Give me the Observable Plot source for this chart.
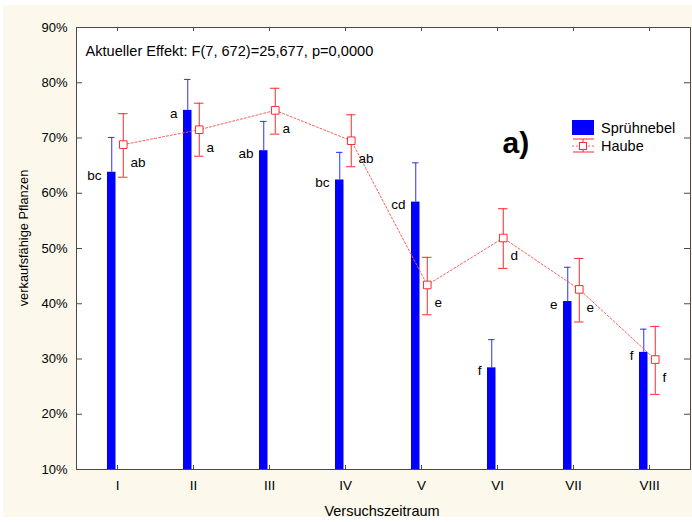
<!DOCTYPE html>
<html>
<head>
<meta charset="utf-8">
<script src="https://cdn.jsdelivr.net/npm/d3@7"></script>
<script src="https://cdn.jsdelivr.net/npm/@observablehq/plot@0.6"></script>
<style>
  html, body { margin: 0; padding: 0; background: #ffffff; }
  #chart { width: 692px; height: 522px; }
  svg { font-family: "Liberation Sans", Arial, sans-serif; }
</style>
</head>
<body>
<div id="chart"></div>
<script>
// ---- data ----
const cats = ["I", "II", "III", "IV", "V", "VI", "VII", "VIII"];
const spruehMean  = [63.8, 75.0, 67.7, 62.4, 58.4, 28.4, 40.4, 31.2];
const spruehUpper = [70.1, 80.6, 73.0, 67.4, 65.5, 33.5, 46.6, 35.4];
const haubeMean   = [68.8, 71.5, 75.0, 69.5, 43.4, 51.9, 42.6, 29.9];
const haubeUpper  = [74.4, 76.3, 79.0, 74.2, 48.4, 57.2, 48.2, 35.9];
const haubeLower  = [62.9, 66.7, 70.7, 64.8, 38.0, 46.4, 36.7, 23.6];
const spruehLetters = ["bc", "a", "ab", "bc", "cd", "f", "e", "f"];
const haubeLetters  = ["ab", "a", "a", "ab", "e", "d", "e", "f"];
const yTicks = [10, 20, 30, 40, 50, 60, 70, 80, 90];
const titleText = "Aktueller Effekt: F(7, 672)=25,677, p=0,0000";
const panelText = "a)";
const seriesNames = ["Sprühnebel", "Haube"];
const xLabel = "Versuchszeitraum";
const yLabel = "verkaufsfähige Pflanzen";

const data = cats.map((c, i) => ({
  cat: c,
  sm: spruehMean[i], su: spruehUpper[i],
  hm: haubeMean[i], hu: haubeUpper[i], hl: haubeLower[i],
  sl: spruehLetters[i], hlab: haubeLetters[i]
}));

const BLUE = "#0000ff", BLUE_ERR = "#2f2fff", RED = "#ff2a2a", RED_LINE = "#ff5a5a";
const off = 5.75;
const frameColor = "#4a4a4a";

const chart = Plot.plot({
  width: 692,
  height: 522,
  marginLeft: 76,
  marginRight: 2,
  marginTop: 27,
  marginBottom: 53,
  style: { fontFamily: "Liberation Sans, Arial, sans-serif", fontSize: "13px", background: "transparent", overflow: "visible" },
  x: { type: "band", domain: cats, padding: 0 },
  y: { domain: [10, 90] },
  marks: [
    Plot.frame({ fill: "white", stroke: "none" }),
    // bars
    Plot.barY(data, { x: "cat", y1: 10, y2: "sm", fill: BLUE, insetLeft: 28, insetRight: 39.5 }),
    // blue error bars (upper only)
    Plot.ruleX(data, { x: "cat", y1: "sm", y2: "su", stroke: BLUE_ERR, strokeWidth: 1, dx: -off }),
    Plot.tickY(data, { x: "cat", y: "su", stroke: BLUE_ERR, strokeWidth: 1, insetLeft: 29, insetRight: 40.5 }),
    // red dashed line
    Plot.line(data, { x: "cat", y: "hm", stroke: RED_LINE, strokeWidth: 1, strokeDasharray: "2,2", dx: off }),
    // red error bars
    Plot.ruleX(data, { x: "cat", y1: "hl", y2: "hu", stroke: RED, strokeWidth: 1, dx: off }),
    Plot.tickY(data, { x: "cat", y: "hu", stroke: RED, strokeWidth: 1, insetLeft: 39, insetRight: 27.5 }),
    Plot.tickY(data, { x: "cat", y: "hl", stroke: RED, strokeWidth: 1, insetLeft: 39, insetRight: 27.5 }),
    Plot.dot(data, { x: "cat", y: "hm", symbol: "square", r: 4.3, fill: "white", stroke: RED, strokeWidth: 1, dx: off }),
    // letters
    Plot.text(data, { x: "cat", y: "sm", text: "sl", textAnchor: "end", dx: -16, dy: 3, fill: "black", fontSize: 13.5 }),
    Plot.text(data, { x: "cat", y: "hm", text: "hlab", textAnchor: "start", dx: 13, dy: 18, fill: "black", fontSize: 13.5 }),
    // frame and inner ticks
    Plot.tickY(yTicks, { y: d => d, stroke: frameColor, insetRight: 608 }),
    Plot.tickY(yTicks, { y: d => d, stroke: frameColor, insetLeft: 608 }),
    Plot.tickX(cats, { x: d => d, stroke: frameColor, insetTop: 438 }),
    Plot.tickX(cats, { x: d => d, stroke: frameColor, insetBottom: 438 }),
    Plot.frame({ stroke: frameColor, strokeWidth: 1 }),
    // axes
    Plot.axisY(yTicks, { tickSize: 0, tickPadding: 9, tickFormat: d => d + "%", label: null, fontSize: 13 }),
    Plot.axisX({ tickSize: 0, tickPadding: 11, label: null, fontSize: 13.5 }),
    // annotations
    Plot.text([titleText], { text: d => d, frameAnchor: "top-left", textAnchor: "start", dx: 9, dy: 18, fontSize: 14.6, fill: "black" }),
    Plot.text([panelText], { text: d => d, frameAnchor: "top-left", textAnchor: "start", dx: 426, dy: 104, fontSize: 30, fontWeight: "bold", fill: "black" })
  ]
});

const svg = d3.select(chart);
// beige page background
svg.insert("rect", ":first-child")
  .attr("x", 3).attr("y", 5).attr("width", 689).attr("height", 512)
  .attr("fill", "#fcf8ec");

// legend
const lg = svg.append("g").attr("text-anchor", "start");
lg.append("rect").attr("x", 572).attr("y", 120).attr("width", 22).attr("height", 15).attr("fill", BLUE);
lg.append("text").attr("x", 601).attr("y", 128).attr("dy", "0.35em").attr("text-anchor", "start").attr("font-size", 14.5).attr("fill", "black").text(seriesNames[0]);
lg.append("line").attr("x1", 572).attr("x2", 594).attr("y1", 146).attr("y2", 146).attr("stroke", RED_LINE).attr("stroke-dasharray", "2,2");
lg.append("line").attr("x1", 583).attr("x2", 583).attr("y1", 139).attr("y2", 152).attr("stroke", RED);
lg.append("line").attr("x1", 573).attr("x2", 594).attr("y1", 139).attr("y2", 139).attr("stroke", RED);
lg.append("line").attr("x1", 573).attr("x2", 594).attr("y1", 152).attr("y2", 152).attr("stroke", RED);
lg.append("rect").attr("x", 579.5).attr("y", 142.5).attr("width", 7).attr("height", 7).attr("fill", "white").attr("stroke", RED);
lg.append("text").attr("x", 601).attr("y", 146).attr("dy", "0.35em").attr("text-anchor", "start").attr("font-size", 14.5).attr("fill", "black").text(seriesNames[1]);

// axis titles
svg.append("text").attr("x", 382).attr("y", 511).attr("dy", "0.35em").attr("text-anchor", "middle")
  .attr("font-size", 14.5).attr("fill", "black").text(xLabel);
svg.append("text").attr("transform", "translate(24,238) rotate(-90)").attr("dy", "0.35em").attr("text-anchor", "middle")
  .attr("font-size", 12.8).attr("fill", "black").text(yLabel);

document.getElementById("chart").appendChild(chart);
</script>
</body>
</html>
